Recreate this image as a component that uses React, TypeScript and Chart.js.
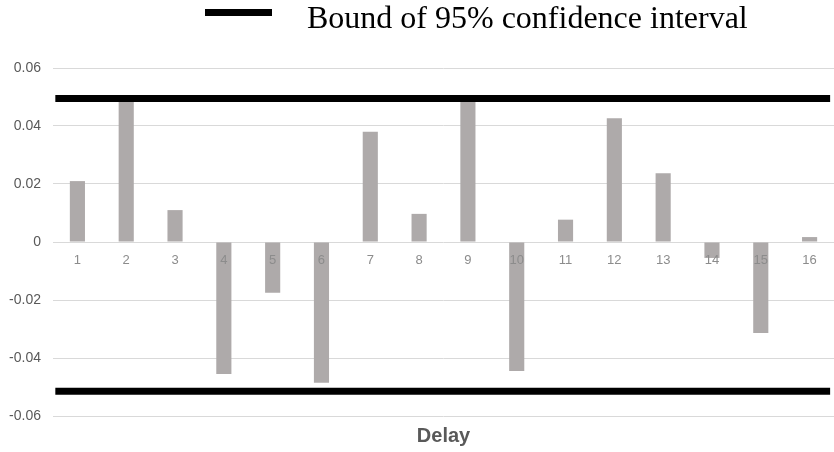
import React, { useEffect, useRef } from "react";
import { Chart, registerables } from "chart.js";

Chart.register(...registerables);

const delays = ["1", "2", "3", "4", "5", "6", "7", "8", "9", "10", "11", "12", "13", "14", "15", "16"];
const acfValues = [0.021, 0.049, 0.011, -0.0455, -0.0175, -0.0485, 0.038, 0.0097, 0.049, -0.0445, 0.0077, 0.0427, 0.0237, -0.0055, -0.0314, 0.0017];
const upperBound = 0.0495;
const lowerBound = -0.0515;
const yTicks = [-0.06, -0.04, -0.02, 0, 0.02, 0.04, 0.06];
const legendLabel = "Bound of 95% confidence interval";
const axisTitle = "Delay";

const SANS = '"Liberation Sans", Arial, sans-serif';
const SERIF = '"Liberation Serif", "Times New Roman", serif';

const boundLegend = {
  id: "boundLegend",
  afterDraw(chart: any) {
    const ctx = chart.ctx;
    ctx.save();
    ctx.fillStyle = "#000000";
    ctx.fillRect(205, 9, 67, 7);
    ctx.font = `32px ${SERIF}`;
    ctx.textBaseline = "alphabetic";
    ctx.textAlign = "left";
    ctx.fillStyle = "#000000";
    ctx.fillText(legendLabel, 307, 28);
    ctx.restore();
  },
};

export default function App() {
  const ref = useRef<HTMLCanvasElement | null>(null);

  useEffect(() => {
    if (!ref.current) return;
    const chart = new Chart(ref.current, {
      type: "bar",
      data: {
        labels: delays,
        datasets: [
          {
            type: "line",
            label: legendLabel,
            xAxisID: "xl",
            data: [
              { x: 0, y: upperBound },
              { x: 1, y: upperBound },
            ],
            borderColor: "#000000",
            backgroundColor: "#000000",
            borderWidth: 7,
            pointRadius: 0,
            order: 0,
          },
          {
            type: "line",
            label: legendLabel,
            xAxisID: "xl",
            data: [
              { x: 0, y: lowerBound },
              { x: 1, y: lowerBound },
            ],
            borderColor: "#000000",
            backgroundColor: "#000000",
            borderWidth: 7,
            pointRadius: 0,
            order: 0,
          },
          {
            type: "bar",
            label: "ACF",
            xAxisID: "x",
            data: acfValues,
            backgroundColor: "#aeaaaa",
            barPercentage: 0.31,
            categoryPercentage: 1,
            grouped: false,
            order: 2,
          },
        ],
      } as any,
      options: {
        animation: false,
        responsive: true,
        maintainAspectRatio: false,
        layout: { padding: { top: 68, left: 0, right: 0, bottom: 4 } },
        plugins: {
          legend: { display: false },
          tooltip: { enabled: false },
        },
        scales: {
          x: {
            type: "category",
            position: { y: 0 },
            offset: true,
            grid: { display: false, drawTicks: false },
            border: { display: false },
            ticks: {
              z: 1,
              color: "#8c8c8c",
              font: { size: 13, family: SANS },
              padding: 11,
            },
          },
          xl: {
            type: "linear",
            axis: "x",
            position: "bottom",
            offset: false,
            min: -0.003,
            max: 1.005,
            grid: { display: false, drawTicks: false },
            border: { display: false },
            ticks: { display: false },
            title: {
              display: true,
              text: axisTitle,
              color: "#595959",
              font: { size: 20, weight: "bold", family: SANS },
              padding: { top: 8, bottom: 0 },
            },
          },
          y: {
            min: -0.06,
            max: 0.06,
            afterBuildTicks: (scale: any) => {
              scale.ticks = yTicks.map((v) => ({ value: v }));
            },
            afterFit: (scale: any) => {
              scale.width = 53;
            },
            grid: { color: "#d9d9d9", drawTicks: false, lineWidth: 1 },
            border: { display: false },
            ticks: {
              color: "#595959",
              font: { size: 14, family: SANS },
              padding: 12,
              callback: (v: any) => {
                const n = Math.round(Number(v) * 100) / 100;
                return n === 0 ? "0" : n.toFixed(2);
              },
            },
          },
        } as any,
      },
      plugins: [boundLegend],
    });
    return () => chart.destroy();
  }, []);

  return (
    <div style={{ position: "fixed", left: 0, top: 0, width: 834, height: 452 }}>
      <canvas ref={ref} />
    </div>
  );
}
